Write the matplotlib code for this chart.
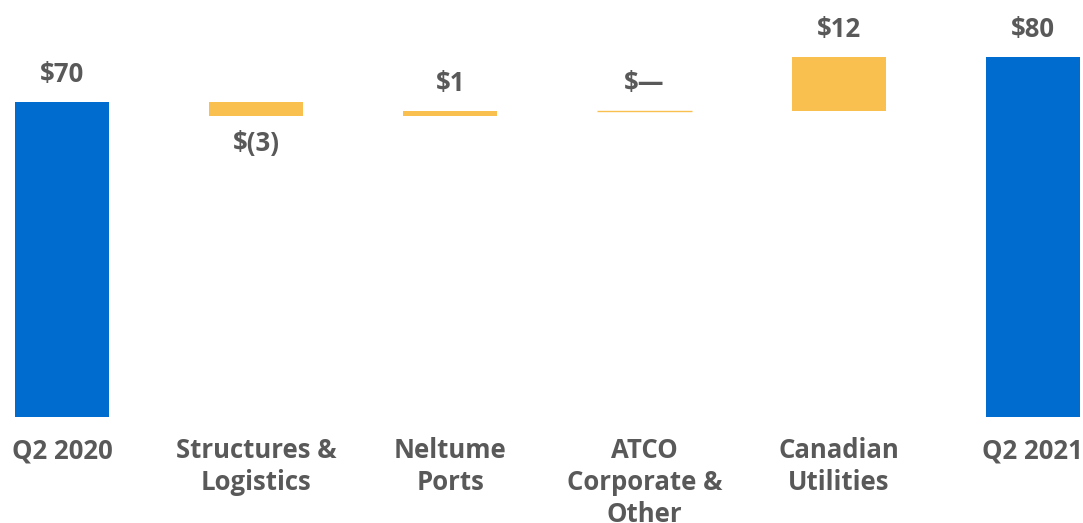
import numpy as np
import matplotlib.pyplot as plt

plt.rcParams['font.family'] = ['Open Sans', 'DejaVu Sans']

# Waterfall data ($ millions)
categories = ['Q2 2020', 'Structures &\nLogistics', 'Neltume\nPorts',
              'ATCO\nCorporate &\nOther', 'Canadian\nUtilities', 'Q2 2021']
values = [70, -3, 1, 0, 12, 80]
value_labels = ['$70', '$(3)', '$1', '$—', '$12', '$80']
is_total = [True, False, False, False, False, True]

blue = '#006CCF'
yellow = '#F9C04F'
gray = '#595959'

# bottoms for the floating bars
bottoms = []
running = 0
for v, tot in zip(values, is_total):
    if tot:
        bottoms.append(0)
        running = v
    else:
        bottoms.append(running if v >= 0 else running + v)
        running += v

fig = plt.figure(figsize=(10.83, 5.23), dpi=100)
ax = fig.add_axes([0, 0, 1, 1])
x = np.arange(len(categories))

for i in range(len(categories)):
    color = blue if is_total[i] else yellow
    h = abs(values[i])
    ax.bar(x[i], h, bottom=bottoms[i], width=0.485, color=color,
           edgecolor=color, linewidth=1 if h == 0 else 0)
    top = bottoms[i] + h
    if values[i] < 0:
        ax.text(x[i], bottoms[i] - 6.3, value_labels[i], ha='center', va='center',
                fontsize=18.5, fontweight='bold', color=gray)
    else:
        ax.text(x[i], top + 6.2, value_labels[i], ha='center', va='center',
                fontsize=18.5, fontweight='bold', color=gray)
    ax.text(x[i], -4.5, categories[i], ha='center', va='top', fontsize=18.5,
            fontweight='bold', color=gray, linespacing=1.24)

ax.set_xlim(-0.319, 5.258)
ax.set_ylim(-23.56, 92.67)
ax.axis('off')

fig.savefig('out.png', dpi=100)
